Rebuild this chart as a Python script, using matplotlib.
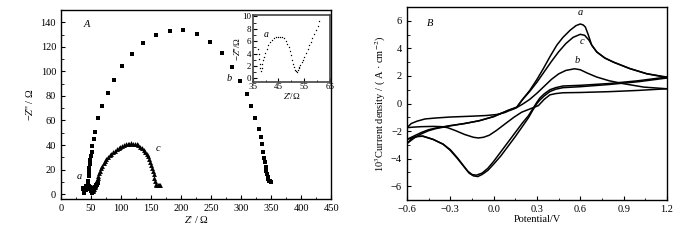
import matplotlib
matplotlib.use("Agg")
import matplotlib.pyplot as plt
from matplotlib.ticker import MultipleLocator

plt.rcParams['font.family'] = ['Liberation Serif', 'DejaVu Serif']
plt.rcParams['mathtext.fontset'] = 'stix'
plt.rcParams['font.size'] = 7.5

# ---- Painel A: Nyquist ----
# curva a (usada no grafico principal e no inset)
a_x = [37.2, 37.4, 37.6, 37.8, 38.0, 38.2, 38.5, 38.8, 39.1, 39.5, 39.9, 40.4, 41.0, 41.6,
       42.3, 43.1, 43.9, 44.7, 45.5, 46.3, 47.1, 47.8, 48.4, 48.9, 49.4, 49.8, 50.3, 50.8,
       51.2, 51.6, 51.9, 52.2, 52.5, 52.8, 53.1, 53.5, 54.0, 54.5, 55.1, 55.7, 56.3, 56.9,
       57.5, 58.1, 58.8, 59.5, 60.2, 60.9]
a_y = [4.7, 3.9, 3.1, 2.3, 1.6, 1.2, 1.7, 2.3, 2.9, 3.5, 4.1, 4.7, 5.3, 5.8,
       6.2, 6.5, 6.7, 6.7, 6.7, 6.7, 6.5, 6.1, 5.6, 5.0, 4.4, 3.7, 3.0, 2.3,
       1.8, 1.4, 1.2, 1.1, 1.3, 1.6, 1.9, 2.2, 2.6, 3.0, 3.5, 4.1, 4.7, 5.3,
       5.9, 6.5, 7.1, 7.8, 8.5, 9.2]

b_x = [42, 43, 44, 45, 45.5, 45.8, 46.2, 46.7, 47.2, 48, 49, 50, 51, 52.5, 54.5, 57.5,
       62.5, 69, 77.5, 88.5, 102, 118, 137, 158, 181, 204, 227, 249, 268, 284.5, 298,
       309.5, 317, 323.5, 329, 332.5, 335, 337, 338.5, 340, 341, 342, 343, 344, 345,
       346.5, 348, 350]
b_y = [3, 4, 5, 6.5, 8, 11, 14.8, 18, 21.6, 24.5, 27.5, 31, 34.5, 39, 44.5, 51,
       62, 71.5, 82, 93, 104, 114, 122.8, 129.5, 133.3, 133.5, 130.3, 123.6, 115, 103.7, 92.4,
       81.4, 71.5, 61.8, 53.2, 46.2, 40.6, 34.4, 29.8, 25.8, 22, 19, 16.5, 14, 12.3,
       11, 10.3, 10]

c_x = [51, 52, 53, 54, 55, 56, 57, 58, 59, 60, 61, 62.5, 64, 65.5, 67, 69, 71, 73, 75.5,
       78, 81, 84, 87, 90, 93, 96, 99, 102, 105, 108, 111, 114, 117, 120, 123, 126, 129,
       132, 135, 138, 140.5, 143, 145, 147, 149, 150.5, 152, 153.5, 154.5, 155.5, 156.5,
       157.5, 159, 161, 163, 165]
c_y = [6, 4, 2.5, 3, 4, 5.5, 7, 8.5, 10, 11.5, 13, 15, 17, 19, 21, 23, 25, 26.8, 28.5,
       30, 31.6, 33, 34.3, 35.5, 36.6, 37.6, 38.5, 39.3, 40, 40.5, 40.9, 41.2, 41.3, 41.2,
       41, 40.5, 39.7, 38.7, 37.5, 36, 34.4, 32.6, 30.8, 28.7, 26.4, 24, 21.5, 18.8, 16,
       13.2, 10.5, 8.5, 7.5, 7.3, 7.5, 7.8]

# ---- Painel B: voltametria ciclica ----
a_fwd_E = [-0.6, -0.55, -0.5, -0.45, -0.4, -0.3, -0.2, -0.1, 0.0, 0.1, 0.16, 0.2, 0.25, 0.3,
           0.344, 0.39, 0.437, 0.48, 0.53, 0.57, 0.6, 0.62, 0.635, 0.656, 0.679, 0.714, 0.77,
           0.83, 0.944, 1.06, 1.2]
a_fwd_I = [-2.9, -2.5, -2.2, -1.97, -1.82, -1.62, -1.45, -1.25, -0.95, -0.5, -0.27, 0.3, 0.95,
           1.75, 2.53, 3.4, 4.23, 4.8, 5.32, 5.65, 5.77, 5.7, 5.55, 4.96, 4.23, 3.74, 3.3, 3.0,
           2.53, 2.16, 1.92]
a_rev_E = [1.2, 1.0, 0.8, 0.6, 0.48, 0.43, 0.39, 0.35, 0.32, 0.3, 0.27, 0.24, 0.2, 0.15, 0.1,
           0.05, 0.0, -0.04, -0.08, -0.12, -0.15, -0.18, -0.21, -0.25, -0.3, -0.35, -0.42,
           -0.49, -0.53, -0.56, -0.6]
a_rev_I = [1.92, 1.65, 1.45, 1.32, 1.27, 1.15, 1.0, 0.7, 0.4, 0.1, -0.4, -0.9, -1.4, -2.1, -2.8,
           -3.5, -4.2, -4.7, -5.05, -5.2, -5.15, -4.9, -4.5, -3.95, -3.35, -2.95, -2.6, -2.38,
           -2.38, -2.48, -2.9]

b_fwd_E = [-0.6, -0.57, -0.53, -0.475, -0.4, -0.3, -0.152, -0.05, 0.02, 0.079, 0.1, 0.15, 0.2,
           0.25, 0.3, 0.35, 0.4, 0.45, 0.5, 0.56, 0.6, 0.65, 0.714, 0.8, 0.898, 1.04, 1.2]
b_fwd_I = [-1.75, -1.45, -1.28, -1.12, -1.05, -0.98, -0.92, -0.87, -0.8, -0.65, -0.55, -0.35,
           -0.05, 0.3, 0.75, 1.25, 1.75, 2.15, 2.4, 2.52, 2.45, 2.2, 1.92, 1.65, 1.44, 1.19, 1.07]
b_rev_E = [1.2, 1.0, 0.8, 0.6, 0.48, 0.43, 0.39, 0.35, 0.31, 0.25, 0.194, 0.14, 0.079, 0.02,
           -0.03, -0.07, -0.106, -0.14, -0.2, -0.268, -0.32, -0.36, -0.42, -0.5, -0.55, -0.6]
b_rev_I = [1.07, 0.95, 0.86, 0.8, 0.78, 0.72, 0.63, 0.3, -0.15, -0.4, -0.63, -1.0, -1.48, -1.95,
           -2.3, -2.45, -2.5, -2.45, -2.25, -1.95, -1.75, -1.68, -1.66, -1.68, -1.71, -1.75]

c_fwd_E = [-0.6, -0.55, -0.5, -0.45, -0.4, -0.3, -0.2, -0.1, 0.0, 0.1, 0.16, 0.2, 0.25, 0.3,
           0.35, 0.4, 0.45, 0.5, 0.55, 0.6, 0.63, 0.66, 0.68, 0.714, 0.77, 0.83, 0.944, 1.06, 1.2]
c_fwd_I = [-2.6, -2.35, -2.1, -1.9, -1.78, -1.6, -1.45, -1.25, -0.95, -0.5, -0.27, 0.28, 0.88,
           1.55, 2.3, 3.05, 3.75, 4.35, 4.8, 5.02, 4.95, 4.6, 4.23, 3.74, 3.3, 3.0, 2.53, 2.16, 1.88]
c_rev_E = [1.2, 1.0, 0.8, 0.6, 0.48, 0.43, 0.39, 0.35, 0.32, 0.3, 0.27, 0.24, 0.2, 0.15, 0.1,
           0.05, 0.0, -0.04, -0.08, -0.11, -0.14, -0.17, -0.2, -0.25, -0.3, -0.35, -0.42, -0.49,
           -0.53, -0.56, -0.6]
c_rev_I = [1.85, 1.58, 1.38, 1.22, 1.15, 1.04, 0.87, 0.55, 0.25, 0.0, -0.5, -1.05, -1.65, -2.4,
           -3.1, -3.8, -4.4, -4.85, -5.15, -5.3, -5.25, -5.05, -4.65, -4.0, -3.4, -2.95, -2.6,
           -2.36, -2.4, -2.5, -2.6]


def estiloEixo(ax):
    ax.tick_params(which='both', direction='in', top=False, right=False)
    ax.tick_params(which='major', length=3, width=0.8)
    ax.tick_params(which='minor', length=1.8, width=0.6)
    for s in ax.spines.values():
        s.set_linewidth(1.0)


fig = plt.figure(figsize=(7, 2.4), dpi=100)

# painel A
axA = fig.add_axes([0.0871, 0.1708, 0.386, 0.7875])
axA.plot(a_x, a_y, 's', color='black', ms=3, mew=0)
axA.plot(b_x, b_y, 's', color='black', ms=3.3, mew=0)
axA.plot(c_x, c_y, '^', color='black', ms=3.5, mew=0)
axA.set_xlim(0, 450)
axA.set_ylim(-4, 150)
axA.xaxis.set_major_locator(MultipleLocator(50))
axA.xaxis.set_minor_locator(MultipleLocator(25))
axA.yaxis.set_major_locator(MultipleLocator(20))
axA.yaxis.set_minor_locator(MultipleLocator(10))
axA.set_xlabel("$\\mathit{Z}$' / Ω", labelpad=1)
axA.set_ylabel("−$\\mathit{Z}$'' / Ω", labelpad=4)
estiloEixo(axA)
axA.text(37, 136, 'A', style='italic')
axA.text(276, 92, 'b', style='italic')
axA.text(157, 35, 'c', style='italic')
axA.text(27, 12, 'a', style='italic')

# inset
axI = fig.add_axes([0.361, 0.658, 0.1104, 0.279])
axI.plot(a_x, a_y, '.', color='black', ms=2.0, mew=0)
axI.set_xlim(35, 65)
axI.set_ylim(-0.6, 10.2)
axI.set_xticks([35, 45, 55, 65])
axI.xaxis.set_minor_locator(MultipleLocator(5))
axI.yaxis.set_major_locator(MultipleLocator(2))
axI.yaxis.set_minor_locator(MultipleLocator(1))
axI.tick_params(labelsize=6.5, pad=1)
estiloEixo(axI)
for s in axI.spines.values():
    s.set_color('#444444')
    s.set_linewidth(1.2)
axI.set_xlabel("$\\mathit{Z}$'/Ω", fontsize=6.5, labelpad=0)
axI.set_ylabel("−$\\mathit{Z}$''/Ω", fontsize=6.5, labelpad=0)
axI.text(39.3, 6.6, 'a', style='italic', fontsize=7)

# painel B
axB = fig.add_axes([0.5814, 0.1667, 0.3714, 0.804])
for E, I in [(a_fwd_E, a_fwd_I), (a_rev_E, a_rev_I), (b_fwd_E, b_fwd_I),
             (b_rev_E, b_rev_I), (c_fwd_E, c_fwd_I), (c_rev_E, c_rev_I)]:
    axB.plot(E, I, color='black', lw=1.1)
axB.set_xlim(-0.6, 1.2)
axB.set_ylim(-7, 7)
axB.xaxis.set_major_locator(MultipleLocator(0.3))
axB.xaxis.set_minor_locator(MultipleLocator(0.15))
axB.yaxis.set_major_locator(MultipleLocator(2))
axB.yaxis.set_minor_locator(MultipleLocator(1))
axB.set_xticks([-0.6, -0.3, 0.0, 0.3, 0.6, 0.9, 1.2])
axB.set_xticklabels(['−0.6', '−0.3', '0.0', '0.3', '0.6', '0.9', '1.2'])
axB.set_xlabel('Potential/V', labelpad=1)
axB.set_ylabel('10$^3$Current density / ( A · cm$^{-2}$)', labelpad=2)
estiloEixo(axB)
axB.text(-0.46, 5.6, 'B', style='italic')
axB.text(0.585, 6.4, 'a', style='italic')
axB.text(0.595, 4.3, 'c', style='italic')
axB.text(0.56, 2.95, 'b', style='italic')

fig.savefig('out.png', dpi=100)
